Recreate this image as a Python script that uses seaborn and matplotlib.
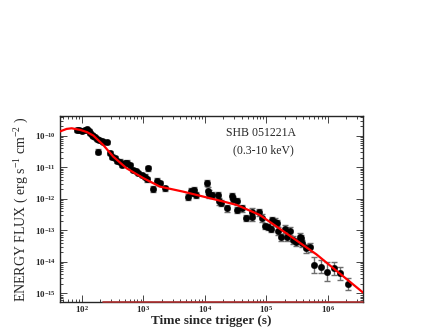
import numpy as np
import pandas as pd
import matplotlib
matplotlib.use('Agg')
import matplotlib.pyplot as plt
import matplotlib.ticker as mticker
import seaborn as sns

# light curve of SHB 051221A, values as log10(t) and log10(flux)
log_t = [1.914, 1.956, 1.995, 2.049, 2.086, 2.119, 2.130, 2.158, 2.184, 2.211,
         2.239, 2.281, 2.320, 2.346, 2.401, 2.265, 2.455, 2.483, 2.537, 2.564,
         2.618, 2.646, 2.699, 2.737, 2.780, 2.824, 2.878, 2.916, 2.971, 3.024,
         3.062, 3.078, 3.159, 3.224, 3.268, 3.350,
         3.729, 3.767, 3.800, 3.821, 3.854, 4.037, 4.054, 4.070, 4.109, 4.217,
         4.233, 4.255, 4.353, 4.434, 4.461, 4.525, 4.515, 4.597, 4.667, 4.759,
         4.775, 4.883, 4.922, 4.976, 5.030, 5.084, 5.100, 5.138, 5.176, 5.192,
         5.247, 5.301, 5.393, 5.338, 5.436, 5.491, 5.545, 5.572, 5.589, 5.642,
         5.707, 5.772, 5.898, 5.995, 6.098, 6.207, 6.330]
log_f = [-9.83, -9.83, -9.84, -9.81, -9.79, -9.84, -9.91, -9.97, -10.02, -10.04,
         -10.10, -10.13, -10.15, -10.18, -10.21, -10.50, -10.55, -10.66, -10.71, -10.79,
         -10.82, -10.92, -10.87, -10.85, -10.94, -11.08, -11.11, -11.18, -11.24, -11.29,
         -11.37, -11.03, -11.69, -11.43, -11.50, -11.66,
         -11.95, -11.74, -11.80, -11.71, -11.87, -11.50, -11.74, -11.84, -11.87, -11.87,
         -12.08, -12.14, -12.30, -11.91, -12.01, -12.08, -12.35, -12.30, -12.61, -12.40,
         -12.58, -12.43, -12.61, -12.86, -12.90, -12.96, -12.67, -12.72, -12.77, -13.01,
         -13.22, -12.96, -13.01, -13.22, -13.30, -13.36, -13.20, -13.25, -13.41, -13.57,
         -13.54, -14.10, -14.15, -14.31, -14.20, -14.36, -14.70]
# error half-width in dex
log_err = [0.05] * 11 + [0.06] * 4 + [0.08] + [0.07] * 14 + [0.08, 0.08, 0.1, 0.08, 0.08, 0.08] \
    + [0.1] * 5 + [0.1, 0.12, 0.12] + [0.1] * 11 + [0.12, 0.12, 0.1, 0.12] + [0.1] * 6 \
    + [0.12] * 10 + [0.15, 0.15, 0.25, 0.2, 0.3, 0.2, 0.2, 0.2]

# model curve (red)
model_log_t = [1.642, 1.75, 1.833, 1.967, 2.08, 2.184, 2.346, 2.509, 2.727, 2.997,
               3.268, 3.647, 4.190, 4.515, 4.894, 5.273, 5.816, 6.574]
model_log_f = [-9.86, -9.78, -9.76, -9.81, -9.88, -9.99, -10.29, -10.66, -11.03, -11.34,
               -11.61, -11.77, -12.03, -12.19, -12.51, -13.02, -13.76, -14.97]

n = min(len(log_t), len(log_f))
err = (log_err + [0.12] * n)[:n]
df = pd.DataFrame({'t': 10 ** np.array(log_t[:n]), 'flux': 10 ** np.array(log_f[:n]),
                   'e': np.array(err)})
model = pd.DataFrame({'t': 10 ** np.array(model_log_t), 'flux': 10 ** np.array(model_log_f)})

sns.set_style('ticks')
plt.rcParams['font.family'] = ['Liberation Serif', 'DejaVu Serif']
plt.rcParams['mathtext.fontset'] = 'custom'
plt.rcParams['mathtext.rm'] = 'Liberation Serif'
plt.rcParams['mathtext.it'] = 'Liberation Serif:italic'
plt.rcParams['mathtext.bf'] = 'Liberation Serif:bold'

fig = plt.figure(figsize=(4.36, 3.27), dpi=100)
ax = fig.add_axes([0.1376, 0.0765, 0.695, 0.5688])
ax.set_xscale('log')
ax.set_yscale('log')

lo = df['flux'] - df['flux'] * 10 ** (-df['e'])
hi = df['flux'] * 10 ** df['e'] - df['flux']
ax.errorbar(df['t'], df['flux'], yerr=[lo, hi], fmt='none', ecolor='#6e6e6e',
            elinewidth=1.0, capsize=2.5, capthick=1.0, zorder=2)
sns.scatterplot(data=df, x='t', y='flux', ax=ax, color='black', s=22,
                marker='o', edgecolor='black', linewidth=0.3, zorder=3)
sns.lineplot(data=model, x='t', y='flux', ax=ax, sort=False, color='#ff0000',
             linewidth=1.6, zorder=4)

ax.set_xlim(10 ** 1.642, 10 ** 6.574)
ax.set_ylim(10 ** -15.27, 10 ** -9.37)

# red base line along the bottom axis
ax.plot([10 ** 2.35, 10 ** 6.574], [10 ** -15.27, 10 ** -15.27], color='#b03030',
        linewidth=1.2, clip_on=False, zorder=5)

ax.xaxis.set_major_locator(mticker.LogLocator(base=10, numticks=20))
ax.yaxis.set_major_locator(mticker.LogLocator(base=10, numticks=20))
ax.xaxis.set_minor_locator(mticker.LogLocator(base=10, subs=np.arange(2, 10), numticks=20))
ax.yaxis.set_minor_locator(mticker.LogLocator(base=10, subs=np.arange(2, 10), numticks=20))
ax.xaxis.set_minor_formatter(mticker.NullFormatter())
ax.yaxis.set_minor_formatter(mticker.NullFormatter())
ax.tick_params(which='both', direction='in', top=True, right=True, width=0.6)
ax.tick_params(which='major', length=5, labelsize=6.5, pad=3)
ax.tick_params(axis='x', which='major', pad=1.5)
ax.tick_params(which='minor', length=2.5)
for lab in ax.get_xticklabels() + ax.get_yticklabels():
    lab.set_fontweight('bold')
for sp in ax.spines.values():
    sp.set_linewidth(1.0)

ax.set_xlabel('Time since trigger (s)', fontsize=9.5, fontweight='bold')
ax.xaxis.set_label_coords(0.5, -0.072)
ax.set_ylabel(r'ENERGY FLUX ( erg s$^{-1}$ cm$^{-2}$ )', fontsize=10, labelpad=3)

ax.text(0.663, 0.909, 'SHB 051221A', transform=ax.transAxes, ha='center', va='center', fontsize=8.5)
ax.text(0.670, 0.817, '(0.3-10 keV)', transform=ax.transAxes, ha='center', va='center', fontsize=8.5)

fig.savefig('out.png', dpi=100)
